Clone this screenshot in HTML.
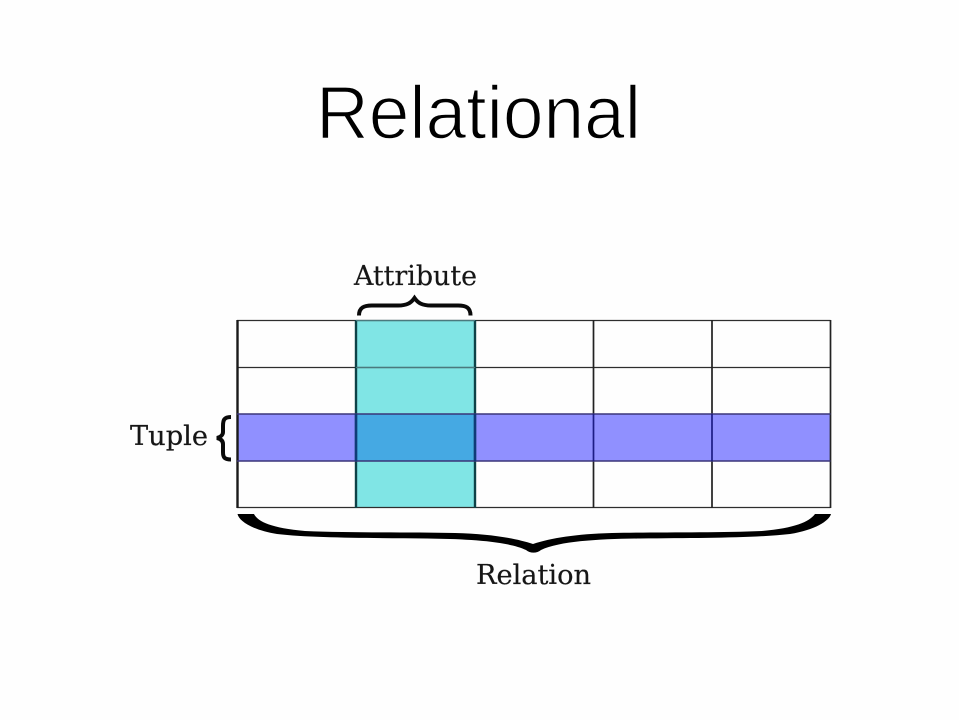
<!DOCTYPE html>
<html>
<head>
<meta charset="utf-8">
<style>
html,body{margin:0;padding:0;background:#fff;width:959px;height:720px;overflow:hidden}
svg{display:block}
</style>
</head>
<body>
<svg width="959" height="720" viewBox="0 0 959 720" xmlns="http://www.w3.org/2000/svg">
<rect width="959" height="720" fill="#fefefe"/>
<text x="316" y="138.500" font-family="Liberation Sans, sans-serif" font-size="75" textLength="325" lengthAdjust="spacingAndGlyphs" fill="#000" stroke="#fefefe" stroke-width="1.5" paint-order="fill stroke">Relational</text>

<rect x="356" y="321" width="119" height="186" fill="#80e5e5"/>
<rect x="238" y="414" width="592" height="47" fill="#9090ff"/>
<rect x="356" y="414" width="119" height="47" fill="#45a9e3"/>

<g fill="none" stroke="#2e2e2e" stroke-width="1.3">
<path d="M237 320.500H830.500M237 367.500H830.500M237 507.500H830.500"/>
</g>
<path d="M593.500 320V414M593.500 461V508M712 320V414M712 461V508M830.500 320V508" fill="none" stroke="#222" stroke-width="1.7"/>
<path d="M237.500 320V508" stroke="#1a1a1a" stroke-width="2.400" fill="none"/>
<path d="M356 320V508M475 320V508" stroke="#0e4248" stroke-width="2.400" fill="none"/>
<path d="M356 320.500H475M356 367.500H475" stroke="#4a7a7e" stroke-width="1.2" fill="none"/>
<path d="M237 414H830.500M237 461H830.500" stroke="#3a3578" stroke-width="1.600" fill="none"/>
<path d="M593.500 414V461M712 414V461" stroke="#1c1c85" stroke-width="1.700" fill="none"/>
<path d="M356 414V461M475 414V461" stroke="#103a78" stroke-width="2.400" fill="none"/>

<!-- Attribute brace -->
<path d="M359 315.500C359 307.500 364 305.500 372 305.500H398C407 305.500 411 303 414.500 298C418 303 422 305.500 431 305.500H458C466 305.500 470.500 307.500 470.500 315.500" fill="none" stroke="#0a0a0a" stroke-width="4"/>
<!-- Tuple brace -->
<path d="M231 417C224 417 223 420 223 426V432C223 434.500 221 437 217 438C221 439 223 441 223 444V452C223 457 224 459.500 231 459.500" fill="none" stroke="#0a0a0a" stroke-width="4"/>
<!-- Relation brace -->
<path d="M237.500 514L254 514C258 522 272 528 305 531C350 533 410 532 455 533C490 534 515 538 533 544C551 538 576 534 612 533C657 532 717 533 762 531C795 528 809 522 815 514L831 514C829 521 815 530 790 534C755 538 700 538 640 538.500C600 539 560 541 541 550C537 553.500 530 553.500 526 550C507 541 467 539 427 538.500C367 538 312 538 277 534C252 530 239 521 237.500 514Z" fill="#000"/>

<g font-family="DejaVu Serif, serif" fill="#161616" stroke="#161616" stroke-width="0.2">
<text x="354" y="285" font-size="27" textLength="123" lengthAdjust="spacingAndGlyphs">Attribute</text>
<text x="130" y="445" font-size="27" textLength="78" lengthAdjust="spacingAndGlyphs">Tuple</text>
<text x="476" y="584" font-size="27" textLength="115" lengthAdjust="spacingAndGlyphs">Relation</text>
</g>
</svg>
</body>
</html>
